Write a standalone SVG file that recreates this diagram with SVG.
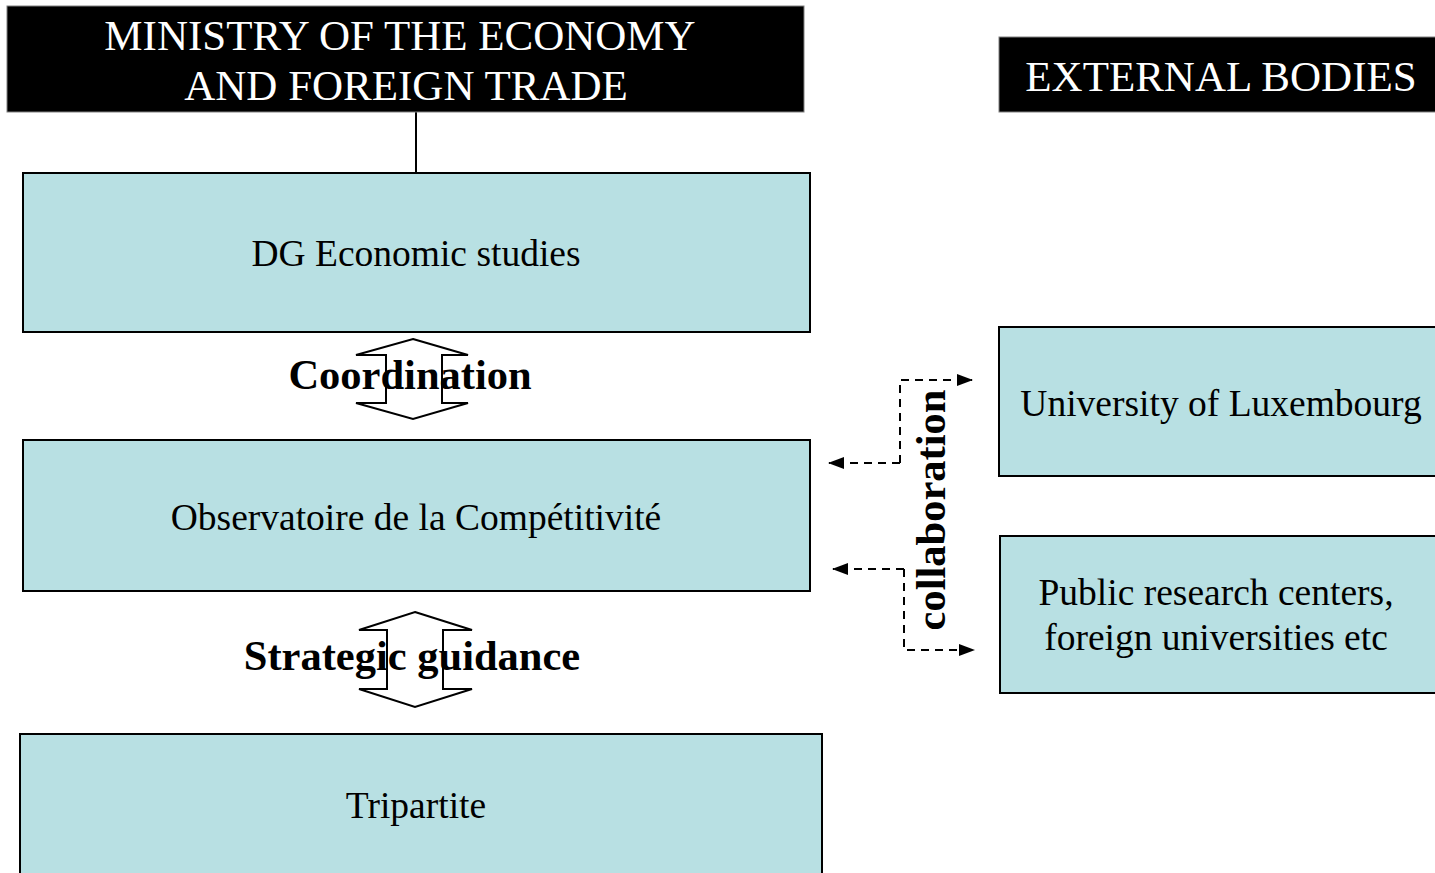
<svg xmlns="http://www.w3.org/2000/svg" width="1435" height="873" viewBox="0 0 1435 873">
<defs>
<style>
.hdr{fill:#000;stroke:#808080;stroke-width:1}
.hdrt{fill:#fff;font-family:"Liberation Serif",serif;font-size:43px;text-anchor:middle}
.box{fill:#b8e0e3;stroke:#000;stroke-width:2}
.bt{fill:#000;font-family:"Liberation Serif",serif;font-size:37.5px;text-anchor:middle}
.lbl{fill:#000;font-family:"Liberation Serif",serif;font-size:42.5px;font-weight:bold;text-anchor:middle}
.dbl{fill:none;stroke:#000;stroke-width:2;stroke-linejoin:miter}
.dash{fill:none;stroke:#000;stroke-width:2;stroke-dasharray:8,6}
</style>
<marker id="ah" markerWidth="16" markerHeight="12" refX="15" refY="6" orient="auto" markerUnits="userSpaceOnUse">
<path d="M0,0 L16,6 L0,12 Z" fill="#000"/>
</marker>
</defs>
<rect width="1435" height="873" fill="#fff"/>
<g id="connectors">
<line x1="416" y1="112" x2="416" y2="173" stroke="#000" stroke-width="2"/>
<polyline class="dash" points="900,463 900,380 972,380" marker-end="url(#ah)"/>
<polyline class="dash" points="900,463 829,463" marker-end="url(#ah)"/>
<polyline class="dash" points="904,569 833,569" marker-end="url(#ah)"/>
<polyline class="dash" points="904,569 904,650 974,650" marker-end="url(#ah)"/>
</g>
<g id="ministry">
<rect class="hdr" x="7" y="6" width="797" height="106"/>
<text class="hdrt" x="400" y="50">MINISTRY OF THE ECONOMY</text>
<text class="hdrt" x="406" y="100">AND FOREIGN TRADE</text>
</g>
<g id="external">
<rect class="hdr" x="999" y="37" width="440" height="75"/>
<text class="hdrt" x="1221" y="91">EXTERNAL BODIES</text>
</g>
<g id="dg">
<rect class="box" x="23" y="173" width="787" height="159"/>
<text class="bt" x="416" y="266">DG Economic studies</text>
</g>
<g id="coordination">
<polygon class="dbl" points="413,339 468,355 442,355 442,403 468,403 413,419 356,403 386,403 386,355 356,355"/>
<text class="lbl" x="410" y="389">Coordination</text>
</g>
<g id="observatoire">
<rect class="box" x="23" y="440" width="787" height="151"/>
<text class="bt" x="416" y="530">Observatoire de la Compétitivité</text>
</g>
<g id="strategic">
<polygon class="dbl" points="415,612 472,630 443,630 443,689 472,689 415,707 359,689 387,689 387,630 359,630"/>
<text class="lbl" x="412" y="670">Strategic guidance</text>
</g>
<g id="tripartite">
<rect class="box" x="20" y="734" width="802" height="150"/>
<text class="bt" x="416" y="818">Tripartite</text>
</g>
<g id="collaboration">
<text class="lbl" transform="translate(945,510) rotate(-90)" x="0" y="0">collaboration</text>
</g>
<g id="university">
<rect class="box" x="999" y="327" width="450" height="149"/>
<text class="bt" x="1221" y="416">University of Luxembourg</text>
</g>
<g id="public">
<rect class="box" x="1000" y="536" width="450" height="157"/>
<text class="bt" x="1216" y="605">Public research centers,</text>
<text class="bt" x="1216" y="650">foreign universities etc</text>
</g>
</svg>
